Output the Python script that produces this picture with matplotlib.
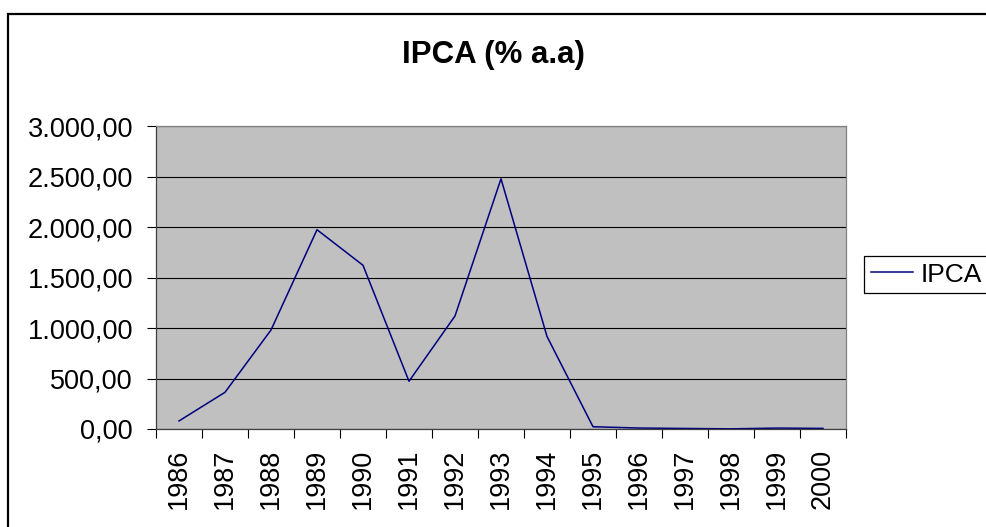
import matplotlib.pyplot as plt
from matplotlib.patches import Rectangle
from matplotlib.ticker import FuncFormatter

plt.rcParams['font.family'] = ['Liberation Sans', 'DejaVu Sans']

# dados do IPCA (% a.a)
anos = ['1986', '1987', '1988', '1989', '1990', '1991', '1992', '1993',
        '1994', '1995', '1996', '1997', '1998', '1999', '2000']
ipca = [79.66, 363.41, 980.21, 1972.91, 1620.97, 472.70, 1119.10, 2477.15,
        916.46, 22.41, 9.56, 5.22, 1.65, 8.94, 5.97]

W, H = 986, 527
fig = plt.figure(figsize=(W / 100, H / 100), dpi=100)
ax = fig.add_axes([156 / W, 1 - 429 / H, 690 / W, 303 / H])
ax.set_facecolor('#C0C0C0')

x = list(range(len(anos)))
ax.plot(x, ipca, color='#000080', linewidth=1.1, label='IPCA')

ax.set_xlim(-0.5, len(anos) - 0.5)
ax.set_ylim(0, 3000)
ax.set_yticks(range(0, 3001, 500))
ax.yaxis.set_major_formatter(FuncFormatter(
    lambda v, p: f'{v:,.2f}'.replace(',', 'X').replace('.', ',').replace('X', '.')))
ax.set_xticks(x)
ax.set_xticklabels(anos, rotation=90)
ax.set_xticks([i - 0.5 for i in range(len(anos) + 1)], minor=True)
ax.tick_params(axis='x', which='major', length=0, pad=14, labelsize=19.5)
ax.tick_params(axis='x', which='minor', length=6.5, width=0.8, direction='out')
ax.tick_params(axis='y', length=6.5, width=0.8, pad=10, labelsize=19.5)
ax.grid(axis='y', color='black', linewidth=0.8)
ax.set_axisbelow(True)

for s in ['top', 'right']:
    ax.spines[s].set_color('#808080')
for s in ['left', 'bottom']:
    ax.spines[s].set_color('#404040')
for s in ax.spines.values():
    s.set_linewidth(0.9)

fig.text(0.5, 1 - 55 / H, 'IPCA (% a.a)', ha='center', va='center',
         fontsize=22.5, fontweight='bold')

leg = fig.legend(loc='upper left', bbox_to_anchor=(864 / W, 1 - 256 / H),
                 bbox_transform=fig.transFigure, borderaxespad=0,
                 fontsize=19, handlelength=1.6, handletextpad=0.3,
                 borderpad=0.25, fancybox=False, framealpha=1)
leg.get_frame().set_edgecolor('black')
leg.get_frame().set_linewidth(0.9)

fig.patches.append(Rectangle((7.5 / W, -0.1), 1.2, 1.1 - 13.5 / H,
                             transform=fig.transFigure, fill=False,
                             edgecolor='black', linewidth=1.6))

fig.savefig('out.png', dpi=100)
